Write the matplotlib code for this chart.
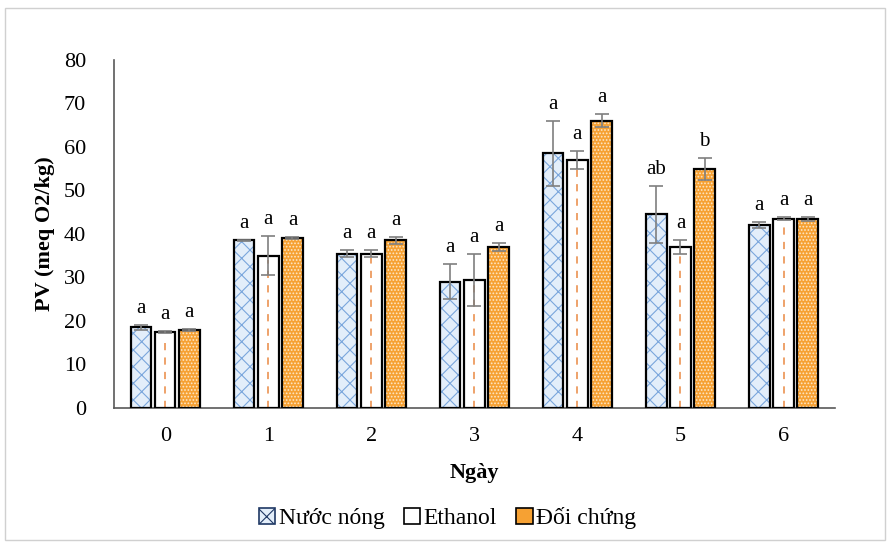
import numpy as np
import matplotlib
matplotlib.use('Agg')
import matplotlib.pyplot as plt
from matplotlib.patches import Rectangle, Patch

plt.rcParams['font.family'] = ['Liberation Serif', 'DejaVu Serif']
plt.rcParams['hatch.linewidth'] = 0.8

days = ['0', '1', '2', '3', '4', '5', '6']
series = ['Nước nóng', 'Ethanol', 'Đối chứng']
nuoc = [18.5, 38.5, 35.5, 29.0, 58.5, 44.5, 42.0]
ethanol = [17.5, 35.0, 35.5, 29.5, 57.0, 37.0, 43.5]
doi = [18.0, 39.0, 38.5, 37.0, 66.0, 55.0, 43.5]
nuoc_err = [0.5, 0.2, 0.8, 4.0, 7.5, 6.5, 0.7]
ethanol_err = [0.3, 4.5, 0.8, 6.0, 2.0, 1.5, 0.3]
doi_err = [0.2, 0.2, 0.8, 1.0, 1.5, 2.5, 0.5]
nuoc_lbl = ['a', 'a', 'a', 'a', 'a', 'ab', 'a']
ethanol_lbl = ['a', 'a', 'a', 'a', 'a', 'a', 'a']
doi_lbl = ['a', 'a', 'a', 'a', 'a', 'b', 'a']

fig = plt.figure(figsize=(8.95, 5.44), dpi=100)
fig.patches.append(Rectangle((0.006, 0.008), 0.983, 0.978, transform=fig.transFigure,
                             fill=False, edgecolor='#d0d0d0', linewidth=1))
ax = fig.add_axes([0.127, 0.25, 0.806, 0.64])

x = np.arange(len(days))
w = 0.2
step = 0.235

# fills with hatch (hatch colour = edgecolor), then black outline on top
ax.bar(x - step, nuoc, w, color='#e3eefa', edgecolor='#7aa6dc', hatch='xx', linewidth=0, zorder=2)
ax.bar(x, ethanol, w, color='white', linewidth=0, zorder=2)
ax.vlines(x, 0, np.array(ethanol) - 1, colors='#ed9b5f', linestyles=(0, (4, 4)), linewidth=1.3, zorder=3)
ax.bar(x + step, doi, w, color='#f6a133', edgecolor='#fde7c8', hatch='.....', linewidth=0, zorder=2)
for off, vals in [(-step, nuoc), (0, ethanol), (step, doi)]:
    ax.bar(x + off, vals, w, fill=False, edgecolor='black', linewidth=1.6, zorder=4)

for off, vals, errs, lbls in [(-step, nuoc, nuoc_err, nuoc_lbl),
                              (0, ethanol, ethanol_err, ethanol_lbl),
                              (step, doi, doi_err, doi_lbl)]:
    ax.errorbar(x + off, vals, yerr=errs, fmt='none', ecolor='#7f7f7f', elinewidth=1.2,
                capsize=5, capthick=1.2, zorder=5)
    for xi, v, e, t in zip(x + off, vals, errs, lbls):
        ax.text(xi, v + e + 1.6, t, ha='center', va='bottom', fontsize=15)

ax.set_ylim(0, 80)
ax.set_xlim(-0.5, 6.5)
ax.set_yticks(range(0, 81, 10))
ax.set_xticks(x)
ax.set_xticklabels(days)
ax.tick_params(axis='x', length=0, labelsize=16, pad=14)
ax.tick_params(axis='y', length=0, labelsize=16, pad=20)
for s in ['top', 'right']:
    ax.spines[s].set_visible(False)
ax.spines['left'].set_color('#595959')
ax.spines['bottom'].set_color('#595959')
ax.spines['left'].set_linewidth(1.2)
ax.spines['bottom'].set_linewidth(1.2)
ax.set_ylabel('PV (meq O2/kg)', fontsize=16, fontweight='bold', labelpad=6)
ax.set_xlabel('Ngày', fontsize=16, fontweight='bold', labelpad=12)

handles = [Patch(facecolor='#e3eefa', edgecolor='#1f3864', hatch='xx', linewidth=1.2),
           Patch(facecolor='white', edgecolor='black', linewidth=1.2),
           Patch(facecolor='#f6a133', edgecolor='black', linewidth=1.2)]
fig.legend(handles, series, loc='lower center', bbox_to_anchor=(0.5, -0.012), ncol=3,
           frameon=False, fontsize=17, handlelength=0.7, handleheight=0.7,
           handletextpad=0.15, columnspacing=0.8)

plt.savefig('out.png', dpi=100)
